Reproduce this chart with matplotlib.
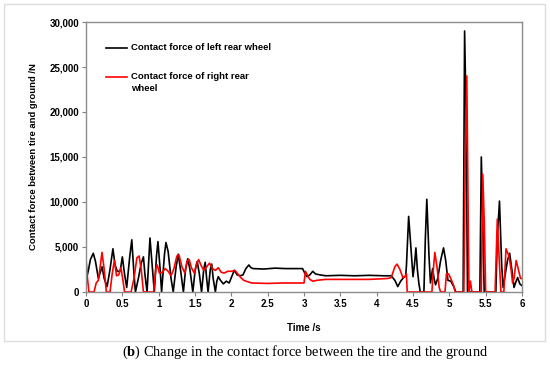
import matplotlib
matplotlib.use('Agg')
import matplotlib.pyplot as plt
from matplotlib.patches import Rectangle
from matplotlib.ticker import FuncFormatter

plt.rcParams['font.family'] = 'Liberation Sans'
plt.rcParams['font.weight'] = 'bold'
plt.rcParams['mathtext.fontset'] = 'custom'
plt.rcParams['mathtext.rm'] = 'Liberation Serif'
plt.rcParams['mathtext.bf'] = 'Liberation Serif:bold'

# datos (tiempo en s, fuerza en N)
t_left = [0.00, 0.03, 0.06, 0.10, 0.13, 0.17, 0.20, 0.22, 0.25, 0.29, 0.33, 0.37, 0.40, 0.43,
          0.47, 0.50, 0.53, 0.56, 0.60, 0.63, 0.66, 0.68, 0.72, 0.76, 0.79, 0.81, 0.84, 0.87,
          0.88, 0.91, 0.94, 0.97, 0.99, 1.02, 1.04, 1.08, 1.10, 1.13, 1.17, 1.20, 1.24, 1.27,
          1.30, 1.34, 1.37, 1.40, 1.43, 1.47, 1.50, 1.53, 1.56, 1.59, 1.62, 1.64, 1.66, 1.68,
          1.71, 1.73, 1.75, 1.78, 1.80, 1.82, 1.85, 1.89, 1.93, 1.97, 2.01, 2.04, 2.08, 2.12,
          2.16, 2.20, 2.24, 2.27, 2.30, 2.45, 2.60, 2.75, 2.90, 2.98, 3.01, 3.04, 3.08, 3.12,
          3.16, 3.22, 3.30, 3.50, 3.70, 3.90, 4.10, 4.20, 4.25, 4.29, 4.33, 4.37, 4.40, 4.41,
          4.44, 4.47, 4.50, 4.52, 4.54, 4.56, 4.58, 4.60, 4.65, 4.67, 4.69, 4.72, 4.74, 4.77,
          4.79, 4.81, 4.84, 4.88, 4.92, 4.95, 4.98, 5.02, 5.06, 5.09, 5.19, 5.21, 5.23, 5.25,
          5.42, 5.44, 5.46, 5.48, 5.64, 5.66, 5.69, 5.72, 5.74, 5.76, 5.80, 5.83, 5.86, 5.89,
          5.91, 5.94, 5.97, 6.00]
f_left = [1300, 2300, 3600, 4300, 3400, 1500, 2300, 2800, 1500, 600, 2500, 4800, 3000, 2300,
          2300, 3900, 2000, 500, 3800, 5800, 2000, 0, 1500, 3200, 3900, 2000, 0, 4500,
          6000, 3000, 0, 4000, 5600, 2500, 0, 4200, 5500, 4500, 1500, 0, 2800, 4200,
          2500, 0, 2500, 3700, 2500, 0, 2300, 3400, 2000, 0, 2500, 3300, 1500, 0,
          2500, 3100, 1500, 0, 1200, 1700, 1300, 900, 1200, 1000, 1800, 2400, 1900, 1800,
          1900, 2600, 3000, 2700, 2600, 2550, 2650, 2600, 2600, 2600, 2100, 1700, 1900, 2300,
          2000, 1900, 1800, 1850, 1800, 1850, 1800, 1800, 1300, 600, 1200, 1600, 1800, 3000,
          8400, 5000, 1700, 3000, 4900, 2500, 1000, 0, 0, 6000, 10300, 4000, 1000, 2600,
          1500, 800, 1500, 3500, 4900, 3500, 1300, 1200, 600, 0, 0, 29000, 20000, 0,
          0, 15000, 8000, 0, 0, 6000, 10100, 3000, 500, 1500, 3500, 4300, 2500, 500,
          1000, 1600, 900, 700]

t_right = [0.00, 0.02, 0.04, 0.11, 0.14, 0.17, 0.19, 0.22, 0.25, 0.28, 0.33, 0.36, 0.39, 0.42,
           0.45, 0.48, 0.51, 0.53, 0.62, 0.66, 0.70, 0.73, 0.76, 0.79, 0.93, 0.96, 0.98, 1.01,
           1.05, 1.09, 1.13, 1.17, 1.21, 1.25, 1.28, 1.32, 1.36, 1.39, 1.42, 1.45, 1.49, 1.52,
           1.55, 1.58, 1.62, 1.66, 1.70, 1.74, 1.78, 1.82, 1.86, 1.90, 1.95, 2.00, 2.05, 2.09,
           2.13, 2.17, 2.22, 2.28, 2.50, 2.70, 2.90, 3.00, 3.02, 3.05, 3.08, 3.12, 3.18, 3.30,
           3.60, 3.90, 4.15, 4.20, 4.25, 4.28, 4.32, 4.36, 4.39, 4.41, 4.42, 4.76, 4.78, 4.80,
           4.83, 4.86, 4.88, 4.94, 4.96, 4.99, 5.02, 5.06, 5.08, 5.20, 5.22, 5.24, 5.26, 5.27,
           5.29, 5.31, 5.44, 5.46, 5.48, 5.50, 5.63, 5.66, 5.69, 5.71, 5.75, 5.78, 5.82, 5.85,
           5.87, 5.89, 5.92, 5.95, 5.98, 6.00]
f_right = [3700, 1500, 0, 0, 1000, 1300, 2500, 4400, 2500, 0, 0, 2000, 3500, 1800,
           1900, 2700, 1200, 0, 0, 1500, 3800, 4000, 2500, 0, 0, 2600, 3000, 2100,
           2200, 2600, 2300, 1800, 2600, 4000, 4100, 2800, 2100, 3400, 3600, 2700, 2100, 3100,
           3600, 3000, 2400, 2800, 3200, 2600, 2400, 2700, 2200, 2100, 2300, 2300, 2400, 2000,
           1600, 1300, 1150, 1000, 950, 1000, 1000, 1000, 2300, 1800, 1400, 1200, 1300, 1400,
           1400, 1400, 1500, 1600, 2800, 3100, 2500, 1600, 1700, 2000, 0, 0, 2500, 4400,
           2800, 500, 0, 0, 2000, 2000, 1500, 700, 0, 0, 15000, 24000, 8000, 0,
           1200, 0, 0, 13100, 8000, 0, 0, 8100, 3000, 0, 0, 4800, 4000, 2500,
           1000, 1500, 3500, 2500, 1500, 1500]

xticks = [0, 0.5, 1, 1.5, 2, 2.5, 3, 3.5, 4, 4.5, 5, 5.5, 6]
xlabels = ['0', '0.5', '1', '1.5', '2', '2.5', '3', '3.5', '4', '4.5', '5', '5.5', '6']
yticks = [0, 5000, 10000, 15000, 20000, 25000, 30000]

fig = plt.figure(figsize=(5.5, 3.73), dpi=100)
ax = fig.add_axes([0.1564, 0.2172, 0.7927, 0.7238])

ax.plot(t_left, f_left, color='black', lw=1.2)
ax.plot(t_right, f_right, color='red', lw=1.2)

ax.set_xlim(0, 6)
ax.set_ylim(0, 30000)
ax.set_xticks(xticks)
ax.set_xticklabels(xlabels)
ax.set_yticks(yticks)
ax.yaxis.set_major_formatter(FuncFormatter(lambda v, p: f'{int(v):,}'))
ax.tick_params(direction='out', length=3, width=0.8, color='#808080', labelsize=7, pad=2)
for s in ax.spines.values():
    s.set_color('#8c8c8c')
    s.set_linewidth(1.0)

ax.set_xlabel('Time /s', fontsize=7, fontweight='bold', labelpad=10)
ax.set_ylabel('Contact force between tire and ground /N', fontsize=6.8, fontweight='bold', labelpad=8)

# leyenda a mano (sin marco)
ax.plot([0.045, 0.095], [0.905, 0.905], color='black', lw=1.2, transform=ax.transAxes)
ax.text(0.103, 0.905, 'Contact force of left rear wheel', transform=ax.transAxes,
        fontsize=6.8, fontweight='bold', va='center')
ax.plot([0.045, 0.095], [0.798, 0.798], color='red', lw=1.2, transform=ax.transAxes)
ax.text(0.103, 0.798, 'Contact force of right rear', transform=ax.transAxes,
        fontsize=6.8, fontweight='bold', va='center')
ax.text(0.103, 0.753, 'wheel', transform=ax.transAxes,
        fontsize=6.8, fontweight='bold', va='center')

# marco exterior gris claro
fig.add_artist(Rectangle((4 / 550, 1 - 341 / 373), 541 / 550, 337 / 373,
                         transform=fig.transFigure, fill=False, edgecolor='#dddddd', lw=1))

fig.text(0.555, 1 - 352 / 373, r'($\mathbf{b}$) Change in the contact force between the tire and the ground',
         ha='center', va='center', fontsize=10.4, family='Liberation Serif', fontweight='normal')

plt.savefig('out.png', dpi=100)
